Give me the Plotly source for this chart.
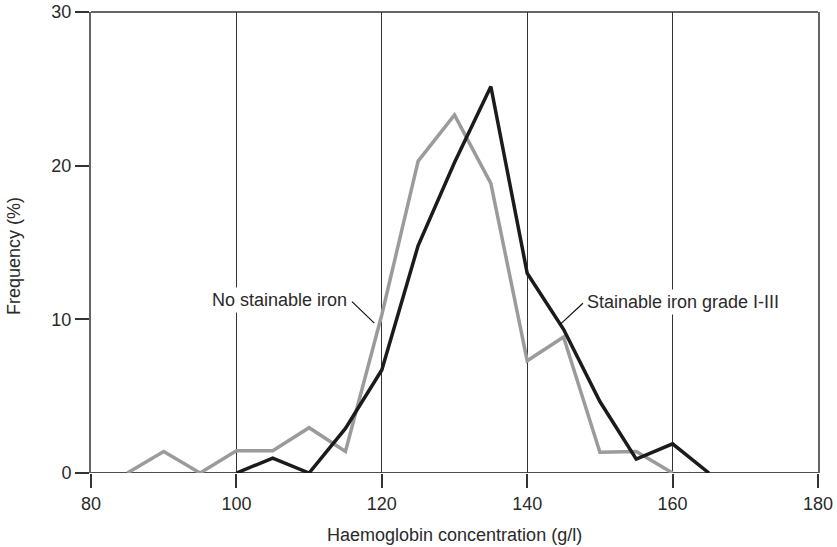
import plotly.graph_objects as go

# Data
x_none = [85, 90, 95, 100, 105, 110, 115, 120, 125, 130, 135, 140, 145, 150, 155, 160]
y_none = [0, 1.4, 0, 1.45, 1.45, 2.95, 1.4, 10.3, 20.3, 23.3, 18.85, 7.3, 8.85, 1.35, 1.4, 0]

x_stain = [100, 105, 110, 115, 120, 125, 130, 135, 140, 145, 150, 155, 160, 165]
y_stain = [0, 0.97, 0, 2.9, 6.7, 14.8, 20.2, 25.15, 13.0, 9.35, 4.65, 0.9, 1.9, 0]

x_ticks = [80, 100, 120, 140, 160, 180]
y_ticks = [0, 10, 20, 30]

label_none = "No stainable iron"
label_stain = "Stainable iron grade I-III"
x_title = "Haemoglobin concentration (g/l)"
y_title = "Frequency (%)"

FONT = "Liberation Sans, Arial, sans-serif"
TXT = "#2a2a2a"

fig = go.Figure()
fig.add_trace(go.Scatter(x=x_none, y=y_none, mode="lines",
                         line=dict(color="#9b9b9b", width=3.5), hoverinfo="skip",
                         showlegend=False))
fig.add_trace(go.Scatter(x=x_stain, y=y_stain, mode="lines",
                         line=dict(color="#1b1b1b", width=3.5), hoverinfo="skip",
                         showlegend=False))

fig.update_layout(
    width=837, height=547,
    margin=dict(l=91, r=19, t=12, b=74, autoexpand=False),
    paper_bgcolor="white", plot_bgcolor="white",
    font=dict(family=FONT, size=18, color=TXT),
    xaxis=dict(range=[80, 180], tickvals=x_ticks, ticks="outside", ticklen=14,
               tickwidth=1.5, tickcolor="#333", showgrid=True, gridcolor="#333",
               gridwidth=1, showline=False, zeroline=False, automargin=False,
               tickfont=dict(size=18, color=TXT, family=FONT)),
    yaxis=dict(range=[0, 30], tickvals=y_ticks, ticks="outside", ticklen=14,
               tickwidth=1.5, tickcolor="#333", showgrid=False, zeroline=False,
               showline=True, linecolor="#666", linewidth=2, mirror=True,
               automargin=False,
               tickfont=dict(size=18, color=TXT, family=FONT)),
    shapes=[
        dict(type="line", xref="paper", yref="paper", x0=0, x1=1, y0=1, y1=1,
             line=dict(color="#666", width=2), layer="below"),
        dict(type="line", xref="paper", yref="y", x0=0, x1=1, y0=0, y1=0,
             line=dict(color="#111", width=1.5), layer="below"),
        dict(type="line", xref="x", yref="y", x0=115.9, y0=11.15, x1=118.97, y1=9.75,
             line=dict(color="#111", width=1.2)),
        dict(type="line", xref="x", yref="y", x0=147.67, y0=11.05, x1=144.46, y1=9.64,
             line=dict(color="#111", width=1.2)),
    ],
    annotations=[
        dict(text=label_none, x=105.86, y=11.27, xref="x", yref="y", showarrow=False,
             bgcolor="white", borderpad=2, font=dict(size=18, color=TXT, family=FONT)),
        dict(text=label_stain, x=161.47, y=11.15, xref="x", yref="y", showarrow=False,
             bgcolor="white", borderpad=2, font=dict(size=18, color=TXT, family=FONT)),
        dict(text=x_title, x=0.5, y=-0.135, xref="paper", yref="paper", showarrow=False,
             xanchor="center", yanchor="middle", font=dict(size=18, color=TXT, family=FONT)),
        dict(text=y_title, x=-0.105, y=0.47, xref="paper", yref="paper", showarrow=False,
             textangle=-90, xanchor="center", yanchor="middle",
             font=dict(size=18, color=TXT, family=FONT)),
    ],
)

fig.write_html("out.html",
               config={"displayModeBar": False},
               post_script="document.body.style.margin='0';document.body.style.padding='0';"
                           "document.documentElement.style.overflow='hidden';")
